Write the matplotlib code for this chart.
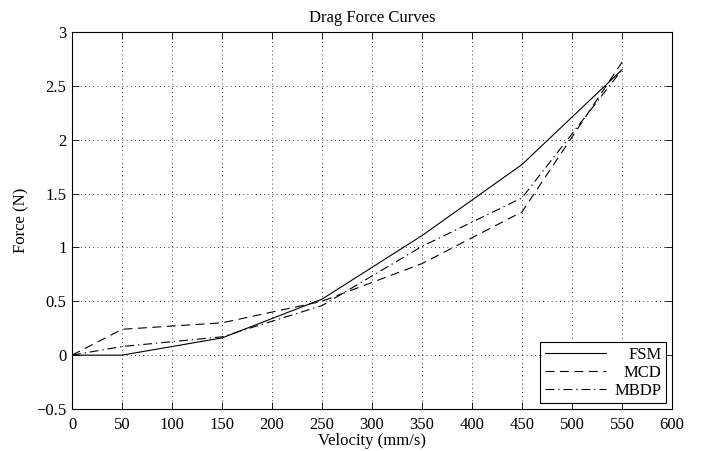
import matplotlib
matplotlib.use("Agg")
import matplotlib.pyplot as plt

velocity = [0, 50, 150, 250, 350, 450, 550]
fsm = [0.0, 0.0, 0.16, 0.52, 1.11, 1.77, 2.65]
mcd = [0.0, 0.24, 0.30, 0.50, 0.85, 1.33, 2.72]
mbdp = [0.0, 0.08, 0.17, 0.46, 1.01, 1.46, 2.65]
xticks = [0, 50, 100, 150, 200, 250, 300, 350, 400, 450, 500, 550, 600]
yticks = [-0.5, 0, 0.5, 1, 1.5, 2, 2.5, 3]
ytick_labels = ["\u22120.5", "0", "0.5", "1", "1.5", "2", "2.5", "3"]

plt.rcParams['font.family'] = ['Liberation Serif', 'DejaVu Serif']
plt.rcParams['font.size'] = 12

fig = plt.figure(figsize=(7.16, 4.51), dpi=100)
ax = fig.add_axes([0.1006, 0.0931, 0.838, 0.836])

ax.plot(velocity, fsm, color='black', lw=0.8, linestyle='-', label='FSM')
ax.plot(velocity, mcd, color='black', lw=0.8, linestyle=(0, (8, 5)), label='MCD')
ax.plot(velocity, mbdp, color='black', lw=0.8, linestyle=(0, (8, 3.5, 1.2, 3.5)), label='MBDP')

ax.set_xlim(0, 600)
ax.set_ylim(-0.5, 3)
ax.set_xticks(xticks)
ax.set_yticks(yticks)
ax.set_yticklabels(ytick_labels)
ax.tick_params(direction='in', top=True, right=True, length=5, width=0.6, labelsize=12)
ax.tick_params(axis='x', pad=6)
ax.tick_params(axis='y', pad=4)
ax.grid(True, linestyle=(0, (1, 4)), color='black', lw=0.6)
for s in ax.spines.values():
    s.set_linewidth(0.8)

ax.set_xlabel('Velocity (mm/s)', labelpad=0, fontsize=12)
ax.set_ylabel('Force (N)', labelpad=5, fontsize=12)
ax.set_title('Drag Force Curves', pad=7, fontsize=12)

leg = ax.legend(loc='lower right', fancybox=False, edgecolor='black', framealpha=1,
                handlelength=3.7, borderaxespad=0.35, labelspacing=0.12,
                handletextpad=0.5, borderpad=0.28, fontsize=12)
leg.get_frame().set_linewidth(0.8)

# right-align legend labels by widening the gap between handle and text
fig.canvas.draw()
texts = leg.get_texts()
widths = [t.get_window_extent().width for t in texts]
maxw = max(widths)
col = leg._legend_handle_box.get_children()[0]
for row, w in zip(col.get_children(), widths):
    row.sep += (maxw - w) * 72.0 / fig.dpi

fig.savefig('out.png', dpi=100)
